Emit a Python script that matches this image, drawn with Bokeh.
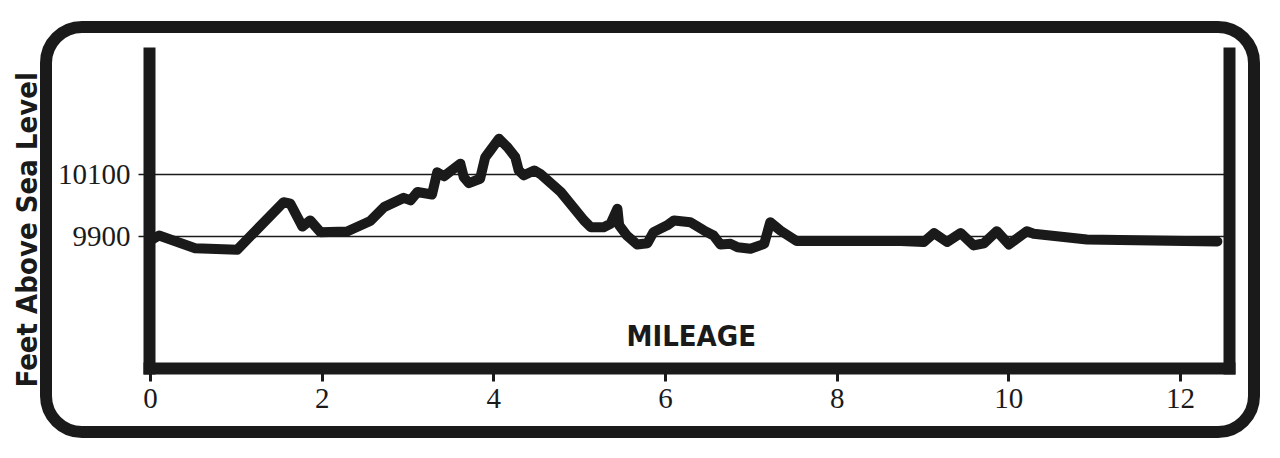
from bokeh.plotting import figure
from bokeh.models import LinearAxis, FixedTicker, Range1d, Label, InlineStyleSheet
from bokeh.embed import file_html
from bokeh.resources import INLINE

# ---- data ----
miles = [0.00, 0.10, 0.52, 1.01, 1.55, 1.63, 1.77, 1.86, 1.98, 2.29, 2.56, 2.72,
         2.95, 3.03, 3.11, 3.28, 3.34, 3.42, 3.61, 3.65, 3.71, 3.84, 3.90, 3.96,
         4.06, 4.16, 4.25, 4.29, 4.35, 4.47, 4.54, 4.78, 5.05, 5.13, 5.28, 5.36,
         5.44, 5.46, 5.55, 5.67, 5.79, 5.86, 6.02, 6.10, 6.29, 6.45, 6.56, 6.64,
         6.76, 6.84, 6.99, 7.15, 7.22, 7.34, 7.53, 8.74, 9.01, 9.13, 9.28, 9.44,
         9.59, 9.71, 9.86, 10.00, 10.21, 10.29, 10.91, 12.43]
elevation = [9886, 9902, 9861, 9856, 10010, 10005, 9931, 9951, 9913, 9915, 9949, 9994,
             10024, 10016, 10043, 10035, 10107, 10094, 10135, 10091, 10072, 10086, 10156, 10178,
             10216, 10188, 10156, 10113, 10097, 10113, 10102, 10043, 9951, 9929, 9929, 9940,
             9989, 9935, 9902, 9873, 9877, 9913, 9935, 9951, 9945, 9918, 9902, 9873,
             9875, 9864, 9859, 9875, 9945, 9918, 9884, 9884, 9881, 9910, 9881, 9910,
             9870, 9877, 9916, 9873, 9916, 9908, 9889, 9883]
x_ticks = [0, 2, 4, 6, 8, 10, 12]
y_ticks = [9900, 10100]
y_title = "Feet Above Sea Level"
x_title = "MILEAGE"

INK = "#1a1a1a"
NARROW = "'DejaVu Sans Condensed', 'DejaVu Sans', sans-serif"
SERIF = "'Liberation Serif', serif"

p = figure(width=1264, height=442, output_backend="svg", toolbar_location=None,
           title=y_title, title_location="left",
           x_range=Range1d(-0.0117, 12.571), y_range=Range1d(9471, 10492),
           x_axis_location=None, y_axis_location=None,
           min_border_left=149, min_border_right=35, min_border_top=53, min_border_bottom=74)
p.outline_line_color = None
p.background_fill_color = "white"
p.border_fill_color = "white"

# vertical title
p.title.text_font = NARROW
p.title.text_font_style = "bold"
p.title.text_font_size = "29px"
p.title.text_color = INK
p.title.align = "left"
p.title.offset = -19
p.title.vertical_align = "top"
p.title.standoff = 17

# left axis
yax = LinearAxis(ticker=FixedTicker(ticks=y_ticks))
yax.axis_line_width = 12
yax.axis_line_color = INK
yax.axis_line_cap = "square"
yax.major_tick_out = 11
yax.major_tick_in = 0
yax.major_tick_line_width = 1.5
yax.major_tick_line_color = INK
yax.minor_tick_line_color = None
yax.major_label_standoff = 8
yax.major_label_text_font = SERIF
yax.major_label_text_font_size = "29px"
yax.major_label_text_color = INK
p.add_layout(yax, "left")

# bottom axis
xax = LinearAxis(ticker=FixedTicker(ticks=x_ticks))
xax.axis_line_width = 12
xax.axis_line_color = INK
xax.axis_line_cap = "square"
xax.major_tick_out = 13
xax.major_tick_in = 0
xax.major_tick_line_width = 3
xax.major_tick_line_color = INK
xax.minor_tick_line_color = None
xax.major_label_standoff = 7
xax.major_label_text_font = SERIF
xax.major_label_text_font_size = "29px"
xax.major_label_text_color = INK
p.add_layout(xax, "below")

# right axis (plain line)
rax = LinearAxis(ticker=FixedTicker(ticks=[]))
rax.axis_line_width = 12
rax.axis_line_color = INK
rax.axis_line_cap = "square"
rax.major_tick_line_color = None
rax.minor_tick_line_color = None
rax.major_label_text_color = None
p.add_layout(rax, "right")

# grid
p.xgrid.visible = False
p.ygrid.ticker = FixedTicker(ticks=y_ticks)
p.ygrid.grid_line_color = INK
p.ygrid.grid_line_width = 1.5

# profile
p.line(miles, elevation, line_width=10, line_color=INK, line_join="round", line_cap="round")

# mileage label inside plot
p.add_layout(Label(x=6.30, y=9575, text=x_title, text_font=NARROW, text_font_style="bold",
                   text_font_size="29px", text_color=INK, text_align="center",
                   text_baseline="middle"))

# rounded outer frame (decoration)
p.stylesheets = [InlineStyleSheet(css="""
:host { position: relative; }
:host::after {
  content: '';
  position: absolute;
  left: 40px; top: 21px; width: 1220px; height: 417px;
  box-sizing: border-box;
  border: 12px solid #1a1a1a;
  border-radius: 42px;
  pointer-events: none;
  z-index: 10;
}
""")]

open("out.html", "w").write(file_html(p, INLINE))
